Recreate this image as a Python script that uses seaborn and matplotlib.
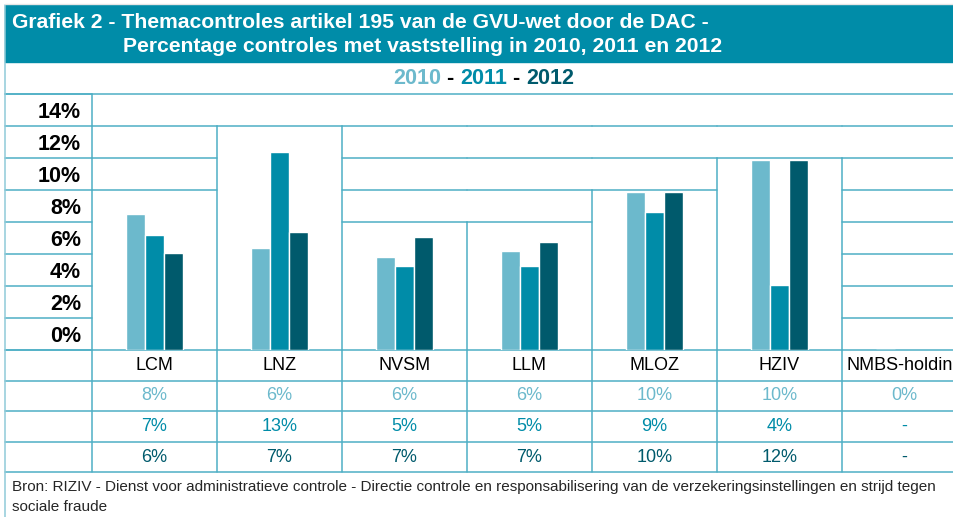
import math
import numpy as np
import pandas as pd
import matplotlib
matplotlib.use('Agg')
import matplotlib.pyplot as plt
import matplotlib.transforms as mtransforms
import seaborn as sns

# data (bar heights in %, table shows the rounded figures)
organisations = ['LCM', 'LNZ', 'NVSM', 'LLM', 'MLOZ', 'HZIV', 'NMBS-holding']
years = ['2010', '2011', '2012']
bars_2010 = [8.5, 6.4, 5.8, 6.2, 9.9, 11.9, 0.0]
bars_2011 = [7.2, 12.4, 5.25, 5.25, 8.6, 4.05, np.nan]
bars_2012 = [6.05, 7.4, 7.05, 6.75, 9.9, 11.9, np.nan]
table_2010 = ['8%', '6%', '6%', '6%', '10%', '10%', '0%']
table_2011 = ['7%', '13%', '5%', '5%', '9%', '4%', '-']
table_2012 = ['6%', '7%', '7%', '7%', '10%', '12%', '-']
y_labels = ['0%', '2%', '4%', '6%', '8%', '10%', '12%', '14%']

title_1 = 'Grafiek 2 - Themacontroles artikel 195 van de GVU-wet door de DAC -'
title_2 = 'Percentage controles met vaststelling in 2010, 2011 en 2012'
source = ('Bron: RIZIV - Dienst voor administratieve controle - Directie controle en '
          'responsabilisering van de verzekeringsinstellingen en strijd tegen')
source_2 = 'sociale fraude'

C10, C11, C12 = '#6cb9cc', '#008ca8', '#005a6c'
TEAL = '#008ca8'
LINE = '#4eafc5'

df = pd.DataFrame({
    'org': organisations * 3,
    'year': [y for y in years for _ in organisations],
    'pct': bars_2010 + bars_2011 + bars_2012,
})

sns.set_style('white')
plt.rcParams['font.family'] = ['Liberation Sans', 'DejaVu Sans']

W, H = 954, 517
fig = plt.figure(figsize=(W / 100, H / 100), dpi=100)

# background axes in pixel coordinates for the table frame
bg = fig.add_axes([0, 0, 1, 1])
bg.set_xlim(0, W)
bg.set_ylim(H, 0)
bg.axis('off')

# chart axes: 0..16 % over the 8 grid bands
ax = fig.add_axes([92 / W, (H - 350) / H, (W - 92) / W, 256 / H])
sns.barplot(data=df, x='org', y='pct', hue='year', order=organisations,
            hue_order=years, palette=[C10, C11, C12], width=0.456,
            saturation=1, legend=False, ax=ax, zorder=3)
ax.set_xlim(-0.5, (W - 92) / 125 - 0.5)
ax.set_ylim(0, 16)
ax.set_xlabel('')
ax.set_ylabel('')
ax.set_xticks([])
ax.set_yticks(np.arange(1, 16, 2))
ax.set_yticklabels(y_labels, fontweight='bold', fontsize=15.5, color='black')
ax.tick_params(axis='y', length=0, pad=8)
for s in ax.spines.values():
    s.set_visible(False)
ax.patch.set_alpha(0)

# merged cells: grid stops at the first line above the highest bar
tops = []
for i in range(len(organisations)):
    vals = [v for v in (bars_2010[i], bars_2011[i], bars_2012[i]) if not np.isnan(v)]
    tops.append(2 * math.ceil(max(vals) / 2) if max(vals) > 0 else 0)

lk = dict(color=LINE, lw=1.1, clip_on=False, zorder=1)
for i, top in enumerate(tops):
    for lvl in range(2, 16, 2):
        if lvl >= top:
            ax.plot([i - 0.5, i + 0.5], [lvl, lvl], **lk)
for i in range(len(organisations) - 1):
    m = max(tops[i], tops[i + 1])
    if m > 0:
        ax.plot([i + 0.5, i + 0.5], [0, m], **lk)

# frame in pixels
for y in range(94, 351, 32):
    bg.plot([5, 92], [y, y], **lk)
bg.plot([5, W], [94, 94], **lk)
for y in [350, 381, 411, 442, 472]:
    bg.plot([5, W], [y, y], **lk)
bg.plot([92, 92], [94, 472], **lk)
bg.plot([5, 5], [5, H], color='#8fcad8', lw=1.1)
bg.plot([5, W], [4, 4], color='#e6e6e6', lw=1)
for k in range(1, 7):
    x = 92 + 125 * k
    bg.plot([x, x], [350, 472], **lk)

bg.add_patch(plt.Rectangle((5, 5), W - 5, 57, color=TEAL, zorder=0))
bg.text(12, 23, title_1, color='white', fontsize=15.2, fontweight='bold', va='center')
bg.text(123, 47, title_2, color='white', fontsize=15.2, fontweight='bold', va='center')

# legend line
t = bg.text(393, 79, '2010', color=C10, fontsize=15.5, fontweight='bold', va='center')
for s, c in [(' - ', 'black'), ('2011', C11), (' - ', 'black'), ('2012', C12)]:
    t = bg.annotate(s, xy=(1, 0), xycoords=t, va='bottom', color=c,
                    fontsize=15.5, fontweight='bold')

# table under the bars
trans = mtransforms.blended_transform_factory(ax.transData, bg.transData)
rows = [(365.5, organisations, 'black'), (396, table_2010, C10),
        (426.5, table_2011, C11), (457, table_2012, C12)]
for y, labels, col in rows:
    for i, lab in enumerate(labels):
        bg.text(i, y, lab, transform=trans, ha='center', va='center',
                color=col, fontsize=13, clip_on=False)

bg.text(12, 487, source, fontsize=11, va='center')
bg.text(12, 507, source_2, fontsize=11, va='center')

fig.savefig('out.png', dpi=100)
